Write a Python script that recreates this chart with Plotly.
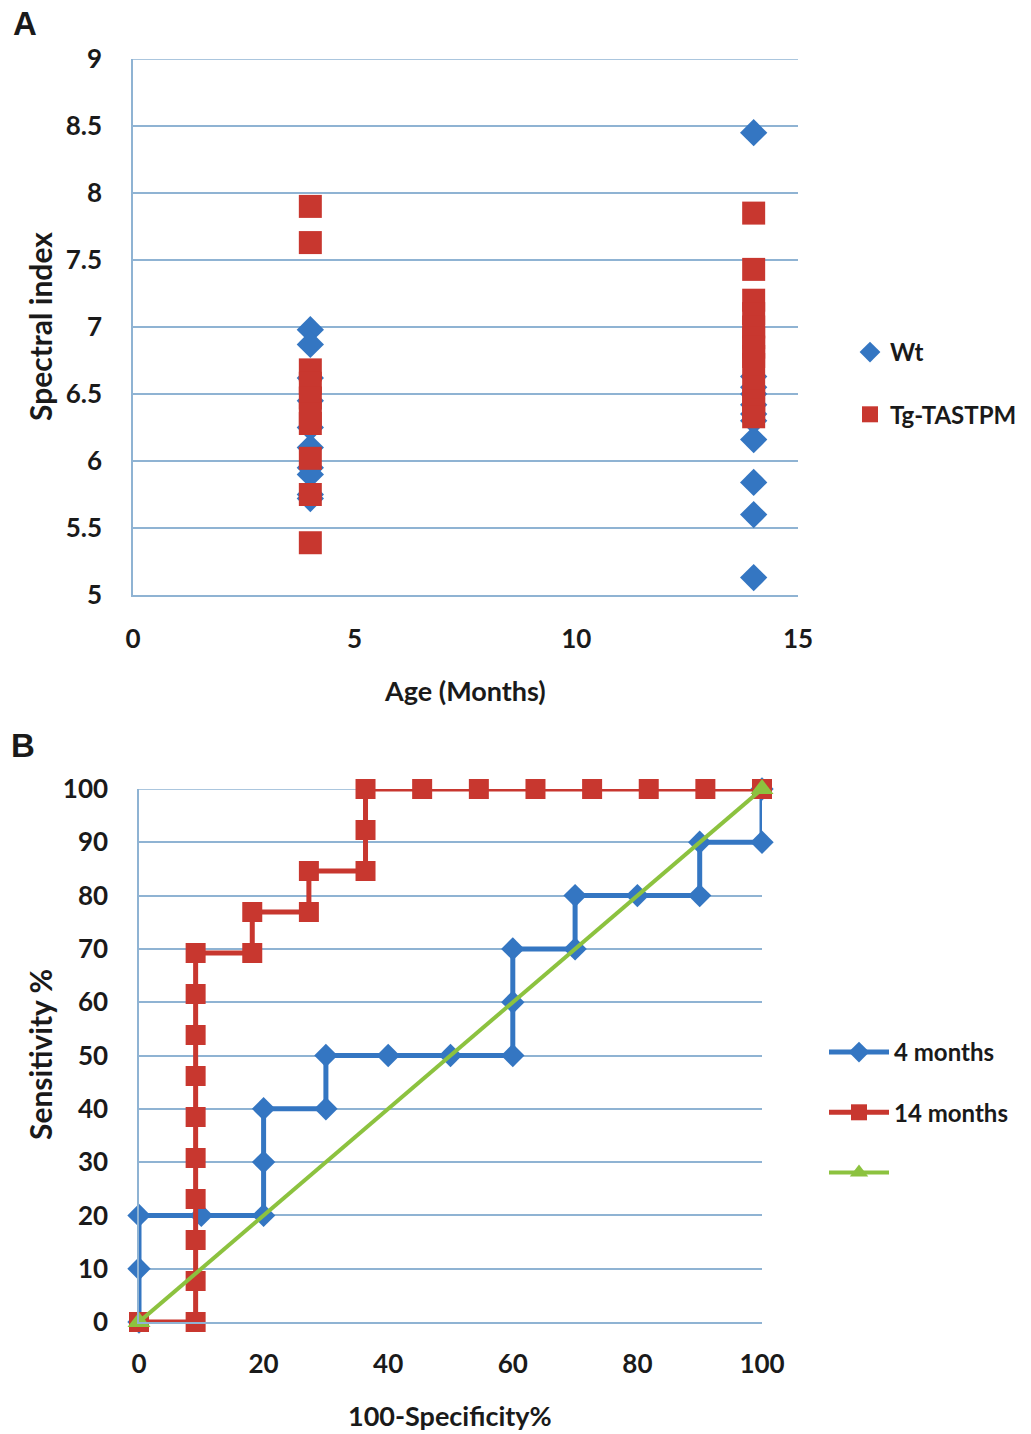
import plotly.graph_objects as go

# Panel A: spectral index by age
wt_age = [4, 4, 4, 4, 4, 4, 4, 4, 4, 4, 14, 14, 14, 14, 14, 14, 14, 14, 14, 14, 14]
wt_index = [6.98, 6.87, 6.62, 6.45, 6.25, 6.10, 5.95, 5.90, 5.75, 5.72,
            8.45, 6.63, 6.55, 6.50, 6.42, 6.35, 6.30, 6.16, 5.84, 5.60, 5.13]
tg_age = [4, 4, 4, 4, 4, 4, 4, 4, 4, 4, 14, 14, 14, 14, 14, 14, 14, 14, 14, 14, 14, 14, 14]
tg_index = [7.90, 7.63, 6.68, 6.58, 6.47, 6.35, 6.28, 6.02, 5.75, 5.39,
            7.85, 7.43, 7.20, 7.10, 7.00, 6.92, 6.85, 6.78, 6.72, 6.55, 6.45, 6.38, 6.33]

# Panel B: ROC curves
roc4_x = [0, 0, 0, 10, 20, 20, 20, 30, 30, 40, 50, 60, 60, 60, 70, 70, 80, 90, 90, 100, 100]
roc4_y = [0, 10, 20, 20, 20, 30, 40, 40, 50, 50, 50, 50, 60, 70, 70, 80, 80, 80, 90, 90, 100]
roc14_x = [0, 9.09, 9.09, 9.09, 9.09, 9.09, 9.09, 9.09, 9.09, 9.09, 9.09,
           18.18, 18.18, 27.27, 27.27, 36.36, 36.36, 36.36,
           45.45, 54.55, 63.64, 72.73, 81.82, 90.91, 100]
roc14_y = [0, 0, 7.69, 15.38, 23.08, 30.77, 38.46, 46.15, 53.85, 61.54, 69.23,
           69.23, 76.92, 76.92, 84.62, 84.62, 92.31, 100,
           100, 100, 100, 100, 100, 100, 100]
ref_x = [0, 100]
ref_y = [0, 100]

BLUE = "#3476c2"
RED = "#c8372f"
GREEN = "#8cc23f"
GRID = "#8fb3d3"
FONT = dict(family="Lato", size=26, color="#1a1a1a", weight="bold")
LEG_FONT = dict(family="Lato", size=24, color="#1a1a1a", weight="bold")
LABEL_FONT = dict(family="Liberation Sans", size=33, color="#1a1a1a", weight="bold")
W, H, OFF = 1031, 1434, 8


def px(x):
    return (x - OFF) / W


def py(y):
    return 1 - (y - OFF) / H


fig = go.Figure()

fig.add_trace(go.Scatter(x=wt_age, y=wt_index, mode="markers", name="Wt",
                         marker=dict(symbol="diamond", size=21, color=BLUE),
                         xaxis="x", yaxis="y", legend="legend", legendgroup="a1"))
fig.add_trace(go.Scatter(x=tg_age, y=tg_index, mode="markers", name="Tg-TASTPM",
                         marker=dict(symbol="square", size=23, color=RED),
                         xaxis="x", yaxis="y", legend="legend", legendgroup="a2"))

fig.add_trace(go.Scatter(x=roc4_x, y=roc4_y, mode="lines+markers", name="4 months",
                         line=dict(color=BLUE, width=5),
                         marker=dict(symbol="diamond", size=18, color=BLUE),
                         cliponaxis=False, xaxis="x2", yaxis="y2",
                         legend="legend2", legendgroup="b1"))
fig.add_trace(go.Scatter(x=roc14_x, y=roc14_y, mode="lines+markers", name="14 months",
                         line=dict(color=RED, width=5),
                         marker=dict(symbol="square", size=20, color=RED),
                         cliponaxis=False, xaxis="x2", yaxis="y2",
                         legend="legend2", legendgroup="b2"))
fig.add_trace(go.Scatter(x=ref_x, y=ref_y, mode="lines+markers", name=" ",
                         line=dict(color=GREEN, width=4),
                         marker=dict(symbol="triangle-up", size=20, color=GREEN),
                         cliponaxis=False, xaxis="x2", yaxis="y2",
                         legend="legend2", legendgroup="b3"))

yaxis_common = dict(showgrid=True, gridcolor=GRID, gridwidth=1.5, showline=True,
                    linecolor=GRID, linewidth=1.5, zeroline=False, ticks="",
                    tickfont=FONT, ticklabelstandoff=24)
xaxis_common = dict(showgrid=False, showline=True, linecolor=GRID, linewidth=1.5,
                    zeroline=False, ticks="", tickfont=FONT)

# top gridlines (plotly skips grid lines sitting on the plot edge)
top_lines = [
    dict(type="line", xref="x domain", yref="y", x0=0, x1=1, y0=9, y1=9,
         line=dict(color=GRID, width=1.5), layer="below"),
    dict(type="line", xref="x2 domain", yref="y2", x0=0, x1=1, y0=100, y1=100,
         line=dict(color=GRID, width=1.5), layer="below"),
]

fig.update_layout(
    width=W, height=H,
    margin=dict(l=0, r=0, t=0, b=0, autoexpand=False),
    paper_bgcolor="white", plot_bgcolor="white",
    font=FONT,
    shapes=top_lines,
    xaxis=dict(domain=[px(133), px(798)], range=[0, 15], dtick=5,
               anchor="y", ticklabelstandoff=20, **xaxis_common),
    yaxis=dict(domain=[py(595), py(59)], range=[5, 9], tick0=5, dtick=0.5,
               anchor="x", **yaxis_common),
    xaxis2=dict(domain=[px(139), px(762)], range=[0, 100], dtick=20,
                anchor="y2", ticklabelstandoff=18, **xaxis_common),
    yaxis2=dict(domain=[py(1322), py(789)], range=[0, 100], tick0=0, dtick=10,
                anchor="x2", **yaxis_common),
    legend=dict(x=px(850), y=py(330), xanchor="left", yanchor="top",
                font=LEG_FONT, tracegroupgap=28, itemwidth=30, bgcolor="rgba(0,0,0,0)"),
    legend2=dict(x=px(824), y=py(1030), xanchor="left", yanchor="top",
                 font=LEG_FONT, tracegroupgap=26, itemwidth=60, bgcolor="rgba(0,0,0,0)"),
    annotations=[
        dict(text="A", x=px(25), y=py(23), xref="paper", yref="paper",
             xanchor="center", yanchor="middle", showarrow=False, font=LABEL_FONT),
        dict(text="B", x=px(23), y=py(745), xref="paper", yref="paper",
             xanchor="center", yanchor="middle", showarrow=False, font=LABEL_FONT),
        dict(text="Spectral index", x=px(40), y=py(327), xref="paper", yref="paper",
             xanchor="center", yanchor="middle", textangle=-90, showarrow=False,
             font=dict(FONT, size=30)),
        dict(text="Age (Months)", x=px(465), y=py(690), xref="paper", yref="paper",
             xanchor="center", yanchor="middle", showarrow=False,
             font=dict(FONT, size=27)),
        dict(text="Sensitivity %", x=px(40), y=py(1055), xref="paper", yref="paper",
             xanchor="center", yanchor="middle", textangle=-90, showarrow=False,
             font=dict(FONT, size=30)),
        dict(text="100-Specificity%", x=px(450), y=py(1415), xref="paper", yref="paper",
             xanchor="center", yanchor="middle", showarrow=False,
             font=dict(FONT, size=27)),
    ],
)

fig.write_html("out.html")
